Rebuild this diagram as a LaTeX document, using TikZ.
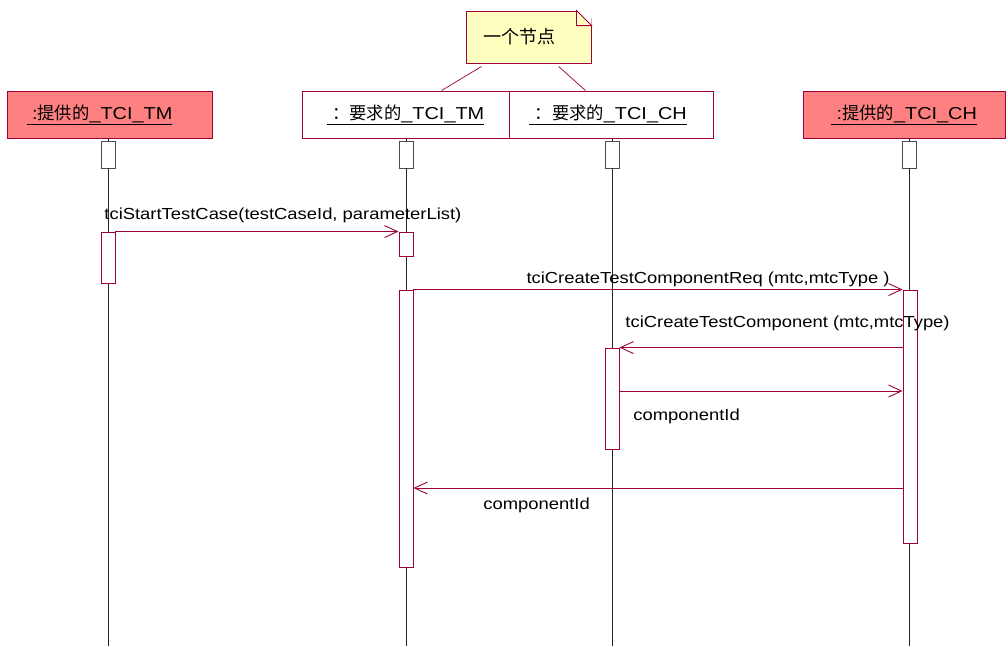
\documentclass[tikz,border=0pt]{standalone}
\usepackage{fontspec}
\setmainfont[FakeStretch=1.15]{Liberation Sans}
\newfontfamily\cjk{Noto Sans CJK SC}
\usetikzlibrary{arrows.meta}
\definecolor{rosered}{RGB}{160,0,60}
\definecolor{objfill}{RGB}{255,128,128}
\definecolor{notefill}{RGB}{255,255,192}

\begin{document}
\begin{tikzpicture}[x=1pt,y=-1pt,line width=0.9pt,
	obj/.style={draw=rosered,minimum height=47pt,inner sep=0pt,font=\fontsize{17.3}{19}\selectfont},
	head/.style={draw=black!70,fill=white,minimum width=14pt,minimum height=27pt,inner sep=0pt},
	act/.style={draw=rosered,fill=white,minimum width=14pt,inner sep=0pt},
	msg/.style={draw=rosered,-{Straight Barb[length=13pt,width=12pt]}},
	lbl/.style={font=\fontsize{16}{18}\selectfont,inner sep=0pt},
	life/.style={draw=black!85},
	note/.style={draw=rosered,fill=notefill,minimum width=125pt,minimum height=52pt,inner sep=0pt,font=\cjk\fontsize{18}{20}\selectfont}]
	\useasboundingbox (0,0) rectangle (1008,646);

	\node[obj,fill=objfill,minimum width=205pt] (tmprov) at (109.5,114.5) {\underline{\ :{\cjk 提供的}\_TCI\_TM}\rule{20pt}{0pt}};
	\node[obj,fill=white,minimum width=207pt] (tmreq) at (405.5,114.5) {\underline{\ {\cjk ：要求的}\_TCI\_TM}};
	\node[obj,fill=white,minimum width=204pt] (chreq) at (611,114.5) {\underline{\ {\cjk ：要求的}\_TCI\_CH}\rule{6pt}{0pt}};
	\node[obj,fill=objfill,minimum width=202pt] (chprov) at (904,114.5) {\underline{\ :{\cjk 提供的}\_TCI\_CH}};

	\node[note] (nt) at (528.5,37) {一个节点\rule{18pt}{0pt}};
	\fill[white] ([xshift=-15pt]nt.north east) -- ([xshift=0.6pt,yshift=0.6pt]nt.north east) -- ([yshift=-15pt]nt.north east) -- cycle;
	\draw[rosered,fill=notefill] ([xshift=-15pt]nt.north east) -- ([yshift=-15pt]nt.north east) -- ([xshift=-15pt,yshift=-15pt]nt.north east) -- cycle;
	\draw[rosered,line width=0.7pt] ([xshift=16pt,yshift=-3pt]nt.south west) -- ([xshift=140pt]tmreq.north west);
	\draw[rosered,line width=0.7pt] ([xshift=93pt,yshift=-3pt]nt.south west) -- ([xshift=77pt]chreq.north west);

	\node[head] (h1) at (108,154.5) {};
	\node[head] (h2) at (406,154.5) {};
	\node[head] (h3) at (612,154.5) {};
	\node[head] (h4) at (909,154.5) {};

	\draw[life] (h1 |- tmprov.south) -- (h1.north);
	\draw[life] (h2 |- tmreq.south) -- (h2.north);
	\draw[life] (h3 |- chreq.south) -- (h3.north);
	\draw[life] (h4 |- chprov.south) -- (h4.north);
	\draw[life] (h1.south) -- (h1 |- 0,646);
	\draw[life] (h2.south) -- (h2 |- 0,646);
	\draw[life] (h3.south) -- (h3 |- 0,646);
	\draw[life] (h4.south) -- (h4 |- 0,646);

	\node[act,minimum height=51pt] (a1) at (108,257.5) {};
	\node[act,minimum height=24pt] (a2) at (406,244) {};
	\node[act,minimum height=277pt] (a2b) at (406,428.5) {};
	\node[act,minimum height=101pt] (a3) at (612,398.5) {};
	\node[act,minimum height=253pt] (a4) at (910,416.5) {};

	\coordinate (m4) at (612,391);
	\coordinate (m5) at (612,488);

	\draw[msg] (a1.north east) -- (a2.north west);
	\draw[msg] (a2b.north east) -- (a4.north west);
	\draw[msg] (a3.north east -| a4.west) -- (a3.north east);
	\draw[msg] (m4 -| a3.east) -- (m4 -| a4.west);
	\draw[msg] (m5 -| a4.west) -- (m5 -| a2b.east);

	\node[lbl,anchor=west] (l1) at (104,215) {tciStartTestCase(testCaseId, parameterList)};
	\node[lbl,anchor=east] (l2) at (890,279) {tciCreateTestComponentReq (mtc,mtcType )};
	\node[lbl,anchor=west] (l3) at (625,323) {tciCreateTestComponent (mtc,mtcType)};
	\node[lbl,anchor=west] (l4) at (633,416) {componentId};
	\node[lbl,anchor=west] (l5) at (483,505) {componentId};
\end{tikzpicture}
\end{document}
